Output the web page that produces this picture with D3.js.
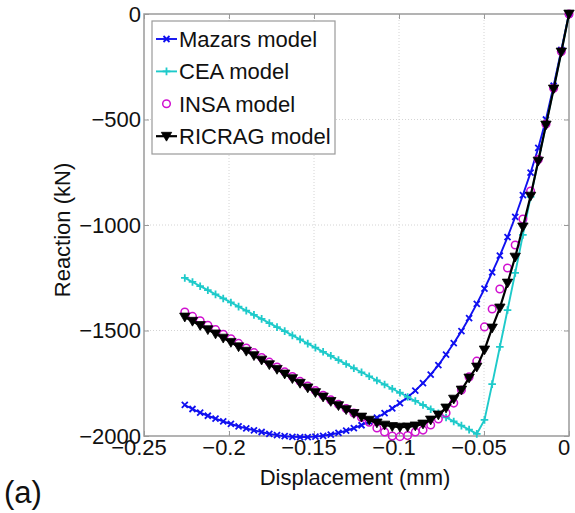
<!DOCTYPE html>
<html>
<head>
<meta charset="utf-8">
<script src="https://cdn.jsdelivr.net/npm/d3@7"></script>
<style>
  html, body { margin: 0; padding: 0; background: #fff; }
  svg { display: block; font-family: "Liberation Sans", Arial, Helvetica, sans-serif; }
</style>
</head>
<body>
<svg id="chart" width="575" height="513"></svg>
<script>
// Imposed displacement (mm), shared by all four models
const displacement = [
  0, -0.00452, -0.00904, -0.01356, -0.01808, -0.0226, -0.02712, -0.03164, -0.03616, -0.04068,
  -0.0452, -0.04972, -0.05424, -0.05876, -0.06328, -0.0678, -0.07232, -0.07684, -0.08136, -0.08588,
  -0.0904, -0.09492, -0.09944, -0.10396, -0.10848, -0.113, -0.11752, -0.12204, -0.12656, -0.13108,
  -0.1356, -0.14012, -0.14464, -0.14916, -0.15368, -0.1582, -0.16272, -0.16724, -0.17176, -0.17628,
  -0.1808, -0.18532, -0.18984, -0.19436, -0.19888, -0.2034, -0.20792, -0.21244, -0.21696, -0.22148,
  -0.226
];

// Reaction (kN) for each model
const mazars = [
  0, -170, -340, -500, -635, -752, -858, -962, -1057, -1145,
  -1225, -1302, -1374, -1441, -1503, -1560, -1614, -1664, -1709, -1749,
  -1785, -1816, -1844, -1869, -1892, -1913, -1932, -1949, -1963, -1975,
  -1985, -1993, -1999, -2003, -2005, -2005, -2004, -2001, -1996, -1990,
  -1981, -1973, -1964, -1954, -1943, -1931, -1918, -1904, -1889, -1872,
  -1853
];
const cea = [
  0, -180, -355, -526, -697, -867, -1047, -1227, -1403, -1578,
  -1754, -1924, -1990, -1970, -1951, -1931, -1912, -1892, -1873, -1853,
  -1834, -1815, -1795, -1776, -1756, -1737, -1717, -1698, -1679, -1659,
  -1640, -1620, -1601, -1581, -1562, -1542, -1523, -1503, -1484, -1465,
  -1445, -1426, -1406, -1387, -1367, -1348, -1329, -1309, -1290, -1270,
  -1251
];
const insa = [
  0, -178, -352, -522, -690, -839, -972, -1095, -1204, -1303,
  -1398, -1483, -1645, -1720, -1782, -1844, -1891, -1919, -1948, -1972,
  -1981, -1998, -2003, -2000, -1981, -1962, -1935, -1912, -1891, -1870,
  -1850, -1829, -1807, -1785, -1763, -1741, -1718, -1696, -1673, -1650,
  -1628, -1605, -1583, -1561, -1539, -1518, -1496, -1475, -1454, -1433,
  -1412
];
const ricrag = [
  0, -180, -355, -526, -697, -863, -1009, -1152, -1275, -1393,
  -1488, -1592, -1673, -1725, -1782, -1825, -1867, -1900, -1924, -1943,
  -1952, -1957, -1958, -1955, -1948, -1938, -1925, -1910, -1893, -1875,
  -1856, -1836, -1815, -1794, -1772, -1750, -1728, -1706, -1684, -1662,
  -1640, -1619, -1598, -1577, -1556, -1536, -1516, -1496, -1476, -1456,
  -1436
];

const seriesNames = ["Mazars model", "CEA model", "INSA model", "RICRAG model"];
const xTicks = [-0.25, -0.2, -0.15, -0.1, -0.05, 0];
const xTickLabels = ["\u22120.25", "\u22120.2", "\u22120.15", "\u22120.1", "\u22120.05", "0"];
const yTicks = [0, -500, -1000, -1500, -2000];
const yTickLabels = ["0", "\u2212500", "\u22121000", "\u22121500", "\u22122000"];

const W = 575, H = 513;
const plot = { left: 144, right: 569, top: 14, bottom: 436 };
const FONT = 22;

const svg = d3.select("#chart");
svg.append("rect").attr("width", W).attr("height", H).attr("fill", "#fff");

const x = d3.scaleLinear().domain([-0.25, 0]).range([plot.left, plot.right]);
const y = d3.scaleLinear().domain([-2000, 0]).range([plot.bottom, plot.top]);

// dotted grid
const grid = svg.append("g");
grid.selectAll("line.gx").data(xTicks.slice(1, -1)).join("line")
  .attr("x1", d => x(d)).attr("x2", d => x(d))
  .attr("y1", plot.top).attr("y2", plot.bottom)
  .attr("stroke", "#d4d4d4").attr("stroke-width", 1).attr("stroke-dasharray", "1,2");
grid.selectAll("line.gy").data(yTicks.slice(1, -1)).join("line")
  .attr("y1", d => y(d)).attr("y2", d => y(d))
  .attr("x1", plot.left).attr("x2", plot.right)
  .attr("stroke", "#d4d4d4").attr("stroke-width", 1).attr("stroke-dasharray", "1,2");

// axes with inward ticks on all four sides
const axisColor = "#9a9a9a";
function styleAxis(g) {
  g.select(".domain").remove();
  g.selectAll(".tick line").attr("stroke", axisColor).attr("stroke-width", 1);
  g.selectAll(".tick text").remove();
}
svg.append("g").attr("transform", `translate(0,${plot.bottom})`)
  .call(d3.axisBottom(x).tickValues(xTicks).tickSizeInner(-5).tickSizeOuter(0)).call(styleAxis);
svg.append("g").attr("transform", `translate(0,${plot.top})`)
  .call(d3.axisTop(x).tickValues(xTicks).tickSizeInner(-5).tickSizeOuter(0)).call(styleAxis);
svg.append("g").attr("transform", `translate(${plot.left},0)`)
  .call(d3.axisLeft(y).tickValues(yTicks).tickSizeInner(-5).tickSizeOuter(0)).call(styleAxis);
svg.append("g").attr("transform", `translate(${plot.right},0)`)
  .call(d3.axisRight(y).tickValues(yTicks).tickSizeInner(-5).tickSizeOuter(0)).call(styleAxis);

svg.append("rect")
  .attr("x", plot.left).attr("y", plot.top)
  .attr("width", plot.right - plot.left).attr("height", plot.bottom - plot.top)
  .attr("fill", "none").attr("stroke", axisColor).attr("stroke-width", 1.5);

// tick labels
svg.append("g").selectAll("text").data(xTicks).join("text")
  .attr("x", d => x(d) - 5).attr("y", plot.bottom + 19)
  .attr("text-anchor", "middle").attr("font-size", FONT).attr("fill", "#111")
  .text((d, i) => xTickLabels[i]);
svg.append("g").selectAll("text").data(yTicks).join("text")
  .attr("x", plot.left - 3).attr("y", d => y(d) + 7.5)
  .attr("text-anchor", "end").attr("font-size", FONT).attr("fill", "#111")
  .text((d, i) => yTickLabels[i]);

// axis titles
svg.append("text").attr("x", 355).attr("y", 485)
  .attr("text-anchor", "middle").attr("font-size", FONT).attr("fill", "#111")
  .text("Displacement (mm)");
svg.append("text").attr("transform", "translate(70,230) rotate(-90)")
  .attr("text-anchor", "middle").attr("font-size", FONT).attr("fill", "#111")
  .text("Reaction (kN)");
svg.append("text").attr("x", 4).attr("y", 503)
  .attr("font-size", 31).attr("fill", "#111").text("(a)");

// marker shapes
const markerPath = {
  x: s => `M${-s},${-s}L${s},${s}M${-s},${s}L${s},${-s}`,
  plus: s => `M${-s},0L${s},0M0,${-s}L0,${s}`,
  tri: s => `M${-s},${-s * 0.75}L${s},${-s * 0.75}L0,${s * 0.95}Z`
};

const models = [
  { name: seriesNames[0], values: mazars, color: "#1010f0", line: true, marker: "x", size: 3, sw: 1.8 },
  { name: seriesNames[1], values: cea, color: "#1ecaca", line: true, marker: "plus", size: 3.8, sw: 1.8 },
  { name: seriesNames[2], values: insa, color: "#d010d0", line: false, marker: "circle", size: 3.8, sw: 1.5 },
  { name: seriesNames[3], values: ricrag, color: "#000", line: true, marker: "tri", size: 5.2, sw: 2 }
];

const lineGen = d3.line().x(d => x(d[0])).y(d => y(d[1]));

function drawMarker(g, kind, cx, cy, m) {
  if (kind === "circle") {
    g.append("circle").attr("cx", cx).attr("cy", cy).attr("r", m.size)
      .attr("fill", "none").attr("stroke", m.color).attr("stroke-width", m.sw);
  } else if (kind === "tri") {
    g.append("path").attr("d", markerPath.tri(m.size)).attr("transform", `translate(${cx},${cy})`)
      .attr("fill", m.color).attr("stroke", m.color).attr("stroke-width", 0.8);
  } else {
    g.append("path").attr("d", markerPath[kind](m.size)).attr("transform", `translate(${cx},${cy})`)
      .attr("fill", "none").attr("stroke", m.color).attr("stroke-width", m.sw);
  }
}

models.forEach(m => {
  const pts = displacement.map((d, i) => [d, m.values[i]]);
  const g = svg.append("g");
  if (m.line) {
    g.append("path").attr("d", lineGen(pts)).attr("fill", "none")
      .attr("stroke", m.color).attr("stroke-width", m.marker === "tri" ? 2.2 : 1.9);
  }
  pts.forEach(p => drawMarker(g, m.marker, x(p[0]), y(p[1]), m));
});

// legend
const lg = svg.append("g");
lg.append("rect").attr("x", 152).attr("y", 21).attr("width", 183).attr("height", 133)
  .attr("fill", "#fff").attr("stroke", axisColor).attr("stroke-width", 1.2);
models.forEach((m, i) => {
  const cy = 39 + i * 32.4;
  if (m.line) {
    lg.append("line").attr("x1", 156).attr("x2", 177).attr("y1", cy).attr("y2", cy)
      .attr("stroke", m.color).attr("stroke-width", m.marker === "tri" ? 2.2 : 1.9);
  }
  drawMarker(lg, m.marker, 166.5, cy, m);
  lg.append("text").attr("x", 179).attr("y", cy + 8)
    .attr("font-size", FONT).attr("fill", "#111").text(m.name);
});
</script>
</body>
</html>
